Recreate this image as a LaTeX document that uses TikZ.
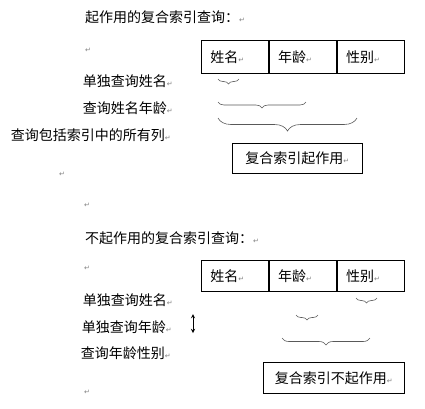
\documentclass[tikz,border=0pt]{standalone}
\usepackage{fontspec}
\newfontfamily\cjk{Noto Sans CJK SC}
\newfontfamily\dejavu{DejaVu Sans}
\usetikzlibrary{decorations.pathreplacing}
\newcommand{\pmk}{{\dejavu\fontsize{7}{7}\selectfont\textcolor{gray}{↵}}}

\begin{document}
\begin{tikzpicture}[x=1pt,y=-1pt,
	every node/.style={font=\cjk\fontsize{14}{16}\selectfont, inner sep=0pt},
	cell/.style={draw, line width=0.8pt, anchor=north west, minimum height=#1,
		text width=49pt, inner xsep=9pt, align=left},
	result/.style={draw, line width=0.8pt, anchor=north west},
	brc/.style={decorate, decoration={brace, mirror, amplitude=#1}, black!65, line width=0.6pt}]
	\useasboundingbox (0,0) rectangle (425,408);

	% upper part: the index is used
	\node[anchor=west] (t1) at (85,17) {起作用的复合索引查询：\pmk};
	\node (p1) at (88,50) {\pmk};
	\node[cell=33pt] (n1) at (201,40) {姓名\pmk};
	\node[cell=33pt] (a1) at (n1.north east) {年龄\pmk};
	\node[cell=33pt] (s1) at (a1.north east) {性别\pmk};
	\node[anchor=east] (q1) at (173,81) {单独查询姓名\pmk};
	\node[anchor=east] (q2) at (173,108) {查询姓名年龄\pmk};
	\node[anchor=east] (q3) at (171,135) {查询包括索引中的所有列\pmk};
	\draw[brc=5pt] (218,79) -- (239,79);
	\draw[brc=6pt] (218,102) -- (306,102);
	\draw[brc=13pt] (218,118) -- (357,118);
	\node[result, minimum width=130pt, minimum height=30pt] (r1) at (232,143) {复合索引起作用\pmk};
	\node (p2) at (62,174) {\pmk};

	% lower part: the index is not used
	\node (p3) at (87,205) {\pmk};
	\node[anchor=west] (t2) at (85,238) {不起作用的复合索引查询：\pmk};
	\node (p4) at (87,268) {\pmk};
	\node[cell=31pt] (n2) at (201,260) {姓名\pmk};
	\node[cell=31pt] (a2) at (n2.north east) {年龄\pmk};
	\node[cell=31pt] (s2) at (a2.north east) {性别\pmk};
	\node[anchor=east] (q4) at (173,300) {单独查询姓名\pmk};
	\node[anchor=east] (q5) at (172,327) {单独查询年龄\pmk};
	\node[anchor=east] (q6) at (171,353) {查询年龄性别\pmk};
	\coordinate (u1) at (193,314);
	\coordinate (u2) at (193,333);
	\draw[<->, >=stealth, line width=0.9pt] (u1) -- (u2);
	\draw[brc=5pt] (356,298) -- (377,298);
	\draw[brc=5pt] (296,315) -- (318,315);
	\draw[brc=7pt] (282,338) -- (370,338);
	\node[result, minimum width=141pt, minimum height=31pt] (r2) at (263,362) {复合索引不起作用\pmk};
	\node (p5) at (87,392) {\pmk};
\end{tikzpicture}
\end{document}
